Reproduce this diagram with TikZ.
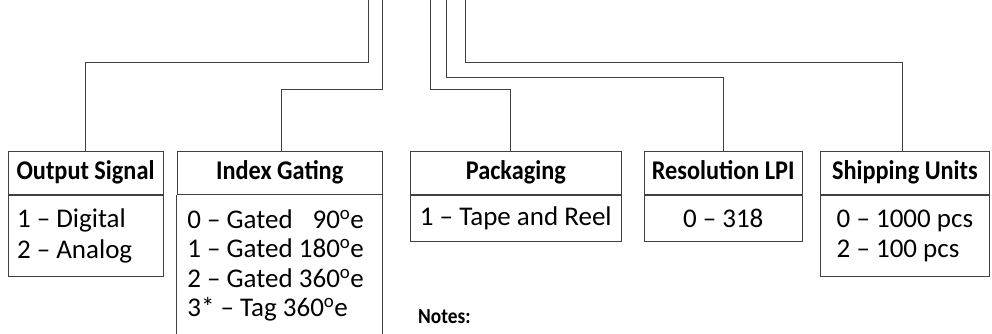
\documentclass[tikz,border=0pt]{standalone}
\usepackage{fontspec}
\setmainfont{Carlito}
\newfontfamily\headfont{Carlito}[FakeStretch=0.9]
\newcommand{\dege}{\textsuperscript{o}e}
\tikzset{
	wire/.style={draw=black!75, line width=0.9pt},
	head/.style={draw=black!75, line width=0.9pt, anchor=north, minimum height=43pt, inner sep=0pt,
		font=\headfont\bfseries\fontsize{27}{30}\selectfont, text height=18pt, text depth=4pt},
	body/.style={draw=black!75, line width=0.9pt, anchor=north, inner ysep=5pt,
		font=\fontsize{27}{29.5}\selectfont},
}
\begin{document}
\begin{tikzpicture}[x=1pt, y=-1pt]
		\useasboundingbox (0,0) rectangle (992,334);
		% option boxes
		\node[head, minimum width=155] (sighead) at (85.5,151) {Output Signal};
		\node[body, minimum width=155, minimum height=81, text width=137, inner xsep=9, align=flush left, font=\fontsize{27}{31}\selectfont] (sigbody) at (sighead.south) {1 -- Digital\\2 -- Analog};
		
		\node[head, minimum width=204.7] (gatehead) at (279.7,151) {Index Gating};
		\node[body, draw=none, anchor=north west, text width=200, inner xsep=10, inner ysep=14, align=flush left] (gatebody) at (gatehead.south west) {0 -- Gated \phantom{1}90\dege\\1 -- Gated 180\dege\\2 -- Gated 360\dege\\3* -- Tag 360\dege};
		\draw[wire] (gatehead.south west) -- ++(0,160);
		\draw[wire] (gatehead.south east) -- ++(0,160);
		
		\node[head, minimum width=211.7] (packhead) at (515.8,151) {Packaging};
		\node[body, minimum width=211.7, minimum height=46, align=center] (packbody) at (packhead.south) {1 -- Tape and Reel};
		
		\node[head, minimum width=158.3] (reshead) at (723.2,151) {Resolution LPI};
		\node[body, minimum width=158.3, minimum height=46, align=center] (resbody) at (reshead.south) {0 -- 318};
		
		\node[head, minimum width=168.3] (shiphead) at (904.9,151) {Shipping Units};
		\node[body, minimum width=168.3, minimum height=81, align=left] (shipbody) at (shiphead.south) {0 -- 1000 pcs\\2 -- 100 pcs};
		
		\node[anchor=base west, inner sep=0pt, font=\headfont\bfseries\fontsize{21.5}{25}\selectfont] (notes) at (418,323) {Notes:};
		
		% part number leads
		\foreach \n/\x in {1/368.7, 2/382.3, 3/430.7, 4/446, 5/465}{
			\coordinate (in\n) at (\x,0);
		}
		\draw[wire] (in1) -- ++(0,62) -| (sighead.north);
		\draw[wire] (in2) -- ++(0,89) -| ([xshift=2]gatehead.north);
		\draw[wire] (in3) -- ++(0,89) -| ([xshift=-5]packhead.north);
		\draw[wire] (in4) -- ++(0,77) -| (reshead.north);
		\draw[wire] (in5) -- ++(0,62) -| ([xshift=-2]shiphead.north);
\end{tikzpicture}
\end{document}
